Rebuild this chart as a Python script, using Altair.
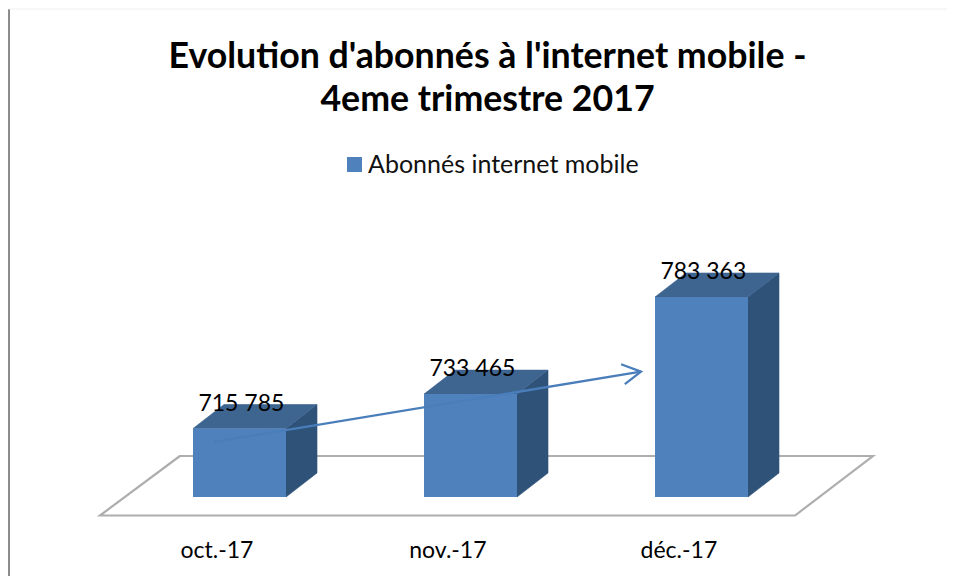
import altair as alt
import pandas as pd

months = ["oct.-17", "nov.-17", "déc.-17"]
values = [715785, 733465, 783363]
value_labels = ["715 785", "733 465", "783 363"]
series = "Abonnés internet mobile"
title_lines = ["Evolution d'abonnés à l'internet mobile -", "4eme trimestre 2017"]

base = 680585
half = 0.2013
dx = 0.1342
dy = 12333
positions = [0, 1, 2]

floor_y = [671078, 701653]
floor_x = [-0.604, -0.258]
floor_x2 = [2.405, 2.742]

arrow_x = [-0.11, 1.738]
arrow_y = [708900, 745000]
head_x = [1.652, 1.738, 1.668]
head_y = [748800, 745000, 738600]

frame_x = -1.0
frame_y = [931350, 639988]
top_x = [-1.0, 3.09]

BLUE, TOP, SIDE = "#4f81bd", "#3e6490", "#2f5279"
FONT = "Lato"

bars = pd.DataFrame({
    "s": [series] * 3, "x": [p - half for p in positions], "x2": [p + half for p in positions],
    "y": values, "b": [base] * 3, "label": value_labels, "lx": [p + 0.008 for p in positions],
})
side = pd.DataFrame([
    {"k": i, "x": positions[i] + half + t * dx, "y": base + t * dy, "y2": values[i] + t * dy}
    for i in range(3) for t in (0, 1)
])
top = pd.DataFrame([
    {"k": i, "x": positions[i] - half + t * dx, "x2": positions[i] + half + t * dx, "y": values[i] + t * dy}
    for i in range(3) for t in (0, 1)
])
floor = pd.DataFrame({"y": floor_y, "x": floor_x, "x2": floor_x2})

X = alt.Scale(domain=[-1.0022, 3.0628], nice=False, zero=False)
Y = alt.Scale(domain=[659516, 865066], nice=False, zero=False)
X_AXIS = alt.Axis(
    values=[p - 0.1 for p in positions],
    labelExpr=f"{months}[round(datum.value + 0.1)]",
    title=None, domain=False, ticks=False, grid=False,
    labelFont=FONT, labelFontSize=23, labelColor="black", labelPadding=1,
    labelOverlap=False, labelFlush=False,
)
x_q = lambda f="x": alt.X(f"{f}:Q", scale=X, axis=X_AXIS)
y_q = lambda f="y": alt.Y(f"{f}:Q", scale=Y, axis=None)

frame_left = alt.Chart(pd.DataFrame({"x": [frame_x], "y": [frame_y[0]], "y2": [frame_y[1]]})).mark_rule(
    color="#8c8c8c", strokeWidth=3).encode(x=x_q(), y=y_q(), y2="y2:Q")
frame_top = alt.Chart(pd.DataFrame({"x": [top_x[0]], "x2": [top_x[1]], "y": [frame_y[0]]})).mark_rule(
    color="#eeeeee", strokeWidth=1).encode(x=x_q(), x2="x2:Q", y=y_q())

floor_layer = alt.Chart(floor).mark_area(orient="horizontal", fill="white", stroke="#aeaeae", strokeWidth=2.2).encode(
    x=x_q(), x2="x2:Q", y=y_q(),
)

side_layer = alt.Chart(side).mark_area(orient="vertical", color=SIDE, stroke=SIDE, strokeWidth=0.6).encode(
    x=x_q(), y=y_q(), y2="y2:Q", detail="k:N")
top_layer = alt.Chart(top).mark_area(orient="horizontal", color=TOP, stroke=TOP, strokeWidth=0.6).encode(
    x=x_q(), x2="x2:Q", y=y_q(), detail="k:N")
front = alt.Chart(bars).mark_bar().encode(
    x=x_q(), x2="x2:Q", y=y_q(), y2="b:Q",
    color=alt.Color("s:N", scale=alt.Scale(domain=[series], range=[BLUE]),
                    legend=alt.Legend(title=None, orient="none", legendX=334, legendY=14,
                                      symbolType="square", symbolSize=225, symbolStrokeWidth=0, labelOffset=1,
                                      labelFont=FONT, labelFontSize=25, labelColor="#111111", labelLimit=400)),
)
arrow = alt.Chart(pd.DataFrame({"x": arrow_x, "y": arrow_y})).mark_line(color="#4a7ebb", strokeWidth=2.3).encode(
    x=x_q(), y=y_q())
head = alt.Chart(pd.DataFrame({"x": head_x, "y": head_y, "o": [0, 1, 2]})).mark_line(color="#4a7ebb", strokeWidth=2.3).encode(
    x=x_q(), y=y_q(), order="o:Q")
labels = alt.Chart(bars).mark_text(font=FONT, fontSize=23, color="black", align="center", baseline="alphabetic", dy=-18).encode(
    x=x_q("lx"), y=y_q(), text="label:N")

chart = alt.layer(frame_left, frame_top, floor_layer, side_layer, top_layer, front, arrow, head, labels).properties(
    width=939, height=400,
    title=alt.TitleParams(text=title_lines, font=FONT, fontSize=35.7, fontWeight="bold", color="black",
                          anchor="middle", dx=10, offset=-111, lineHeight=43),
    padding={"left": 0, "top": 130, "right": 0, "bottom": 38},
    autosize=alt.AutoSizeParams(type="none"),
    background="white",
).configure_view(stroke=None)

chart.save("out.html", embed_options={"renderer": "svg", "actions": False})
